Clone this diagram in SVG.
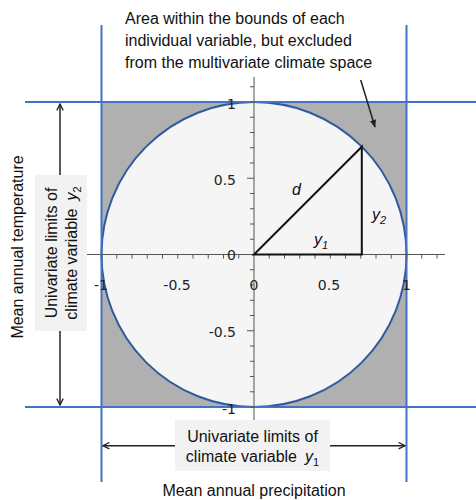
<svg xmlns="http://www.w3.org/2000/svg" width="476" height="500" viewBox="0 0 476 500">
<style>
.blue{stroke:#4472c4;stroke-width:2;fill:none}
.ax{stroke:#555;stroke-width:1;fill:none}
.tk{stroke:#555;stroke-width:1}
.tl{font-family:"DejaVu Sans",sans-serif;font-size:14px;fill:#222}
.lbl{font-family:"Liberation Sans",Arial,sans-serif;font-size:16px;fill:#111}
.it{font-style:italic}
.arr{stroke:#222;stroke-width:1.5;fill:none}
.box{fill:#f2f2f2}
</style>
<defs>
<marker id="chev" viewBox="0 0 10 10" refX="9" refY="5" markerWidth="8" markerHeight="8" orient="auto-start-reverse" markerUnits="userSpaceOnUse">
<path d="M1,1 L9,5 L1,9" fill="none" stroke="#222" stroke-width="1.6"/>
</marker>
<marker id="head" viewBox="0 0 10 10" refX="9" refY="5" markerWidth="8" markerHeight="8" orient="auto" markerUnits="userSpaceOnUse">
<path d="M0,1 L10,5 L0,9 z" fill="#222"/>
</marker>
</defs>
<rect width="476" height="500" fill="#fff"/>
<g id="space">
<rect x="101.5" y="102" width="305" height="305" fill="#b0b0b0"/>
<circle cx="254" cy="254.5" r="152.5" fill="#f5f5f5" stroke="#2f5b9c" stroke-width="2"/>
</g>
<g id="limits">
<line class="blue" x1="25" y1="102" x2="476" y2="102"/>
<line class="blue" x1="25" y1="407" x2="476" y2="407"/>
<line class="blue" x1="101.5" y1="25" x2="101.5" y2="482"/>
<line class="blue" x1="406.5" y1="25" x2="406.5" y2="482"/>
</g>
<g id="axes">
<line class="ax" x1="86" y1="254.5" x2="445" y2="254.5"/>
<line class="ax" x1="254" y1="77" x2="254" y2="420"/>
<path class="tk" d="M86.25,254.5v4 M101.5,254.5v4 M116.75,254.5v4 M132,254.5v4 M147.25,254.5v4 M162.5,254.5v4 M177.75,254.5v4 M193,254.5v4 M208.25,254.5v4 M223.5,254.5v4 M238.75,254.5v4 M269.25,254.5v4 M284.5,254.5v4 M299.75,254.5v4 M315,254.5v4 M330.25,254.5v4 M345.5,254.5v4 M360.75,254.5v4 M376,254.5v4 M391.25,254.5v4 M406.5,254.5v4 M421.75,254.5v4 M437,254.5v4"/>
<path class="tk" d="M254,86.75h-4 M254,102h-4 M254,117.25h-4 M254,132.5h-4 M254,147.75h-4 M254,163h-4 M254,178.25h-7 M254,193.5h-4 M254,208.75h-4 M254,224h-4 M254,239.25h-4 M254,269.75h-4 M254,285h-4 M254,300.25h-4 M254,315.5h-4 M254,330.75h-7 M254,346h-4 M254,361.25h-4 M254,376.5h-4 M254,391.75h-4 M254,407h-4"/>
<g class="tl" text-anchor="end">
<text x="236" y="109">1</text>
<text x="236" y="184.5">0.5</text>
<text x="236" y="259.5">0</text>
<text x="236" y="337">-0.5</text>
<text x="236" y="413.5">-1</text>
</g>
<g class="tl" text-anchor="middle">
<text x="101" y="290">-1</text>
<text x="177" y="290">-0.5</text>
<text x="254" y="290">0</text>
<text x="329" y="290">0.5</text>
<text x="406.5" y="290">1</text>
</g>
</g>
<g id="triangle">
<path d="M254,254.5 L361.8,146.7 L361.8,254.5 Z" fill="none" stroke="#111" stroke-width="2" stroke-linejoin="miter"/>
<text class="lbl it" x="292" y="195">d</text>
<text class="lbl it" x="372" y="220">y<tspan font-size="11" dy="4">2</tspan></text>
<text class="lbl it" x="314" y="245">y<tspan font-size="11" dy="4">1</tspan></text>
</g>
<g id="callout">
<text class="lbl" x="125" y="24">Area within the bounds of each</text>
<text class="lbl" x="125" y="46">individual variable, but excluded</text>
<text class="lbl" x="125" y="67.5">from the multivariate climate space</text>
</g>
<g id="connectors">
<line x1="360.7" y1="80" x2="375" y2="127" stroke="#222" stroke-width="1.5" marker-end="url(#head)"/>
<line class="arr" x1="60" y1="104" x2="60" y2="405" marker-start="url(#chev)" marker-end="url(#chev)"/>
<line class="arr" x1="103" y1="445.7" x2="405" y2="445.7" marker-start="url(#chev)" marker-end="url(#chev)"/>
</g>
<g id="ylimit">
<rect class="box" x="35" y="175" width="52" height="156"/>
<g transform="translate(57,253) rotate(-90)"><text class="lbl" x="0" y="0" text-anchor="middle">Univariate limits of</text></g>
<g transform="translate(77,253) rotate(-90)"><text class="lbl" x="0" y="0" text-anchor="middle">climate variable<tspan class="it" dx="8">y</tspan><tspan font-size="11" dy="4">2</tspan></text></g>
</g>
<g id="xlimit">
<rect class="box" x="175" y="420" width="155" height="51"/>
<text class="lbl" x="252.5" y="441.5" text-anchor="middle">Univariate limits of</text>
<text class="lbl" x="252.5" y="461.5" text-anchor="middle">climate variable<tspan class="it" dx="8">y</tspan><tspan font-size="11" dy="4">1</tspan></text>
</g>
<g id="titles">
<text class="lbl" x="254" y="496" text-anchor="middle">Mean annual precipitation</text>
<g transform="translate(23,247) rotate(-90)"><text class="lbl" x="0" y="0" text-anchor="middle">Mean annual temperature</text></g>
</g>
</svg>
